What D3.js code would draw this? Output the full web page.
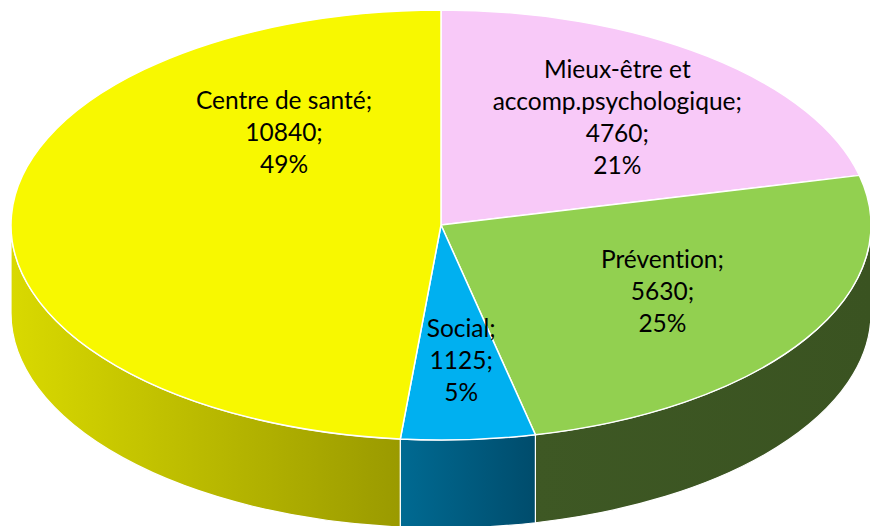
<!DOCTYPE html>
<html><head><meta charset="utf-8">
<script src="https://cdn.jsdelivr.net/npm/d3@7"></script>
<style>html,body{margin:0;padding:0;background:#fff;overflow:hidden} text{font-variant-ligatures:none;font-feature-settings:"liga" 0,"clig" 0}</style>
</head><body>
<svg id="chart" width="870" height="526"></svg>
<script>
// ---- data ----
const categories = ["Mieux-être et accomp.psychologique", "Prévention", "Social", "Centre de santé"];
const values = [4760, 5630, 1125, 10840];
const nameLines = [["Mieux-être et", "accomp.psychologique;"], ["Prévention;"], ["Social;"], ["Centre de santé;"]];
const percentLabels = ["21%", "25%", "5%", "49%"];
const topColors = ["#F8C9F8", "#92D050", "#00B0F0", "#F8F800"];
const sideColorsLeft = ["#B07AB0", "#3E5824", "#006A92", "#D9D900"];
const sideColorsRight = ["#905A90", "#3A5321", "#004C6C", "#9A9A00"];
// label placement as fractions of the ellipse radii (layout)
const labelU = [0.41, 0.515, 0.047, -0.365];
const labelV = [-0.5, 0.31, 0.63, -0.43];

// ---- geometry ----
const cx = 441, cy = 225, rx = 430, ry = 215, depth = 88;
const svg = d3.select("#chart");
const defs = svg.append("defs");

const data = categories.map((c, i) => ({name: c, value: values[i], i}));
const arcs = d3.pie().sort(null).value(d => d.value).startAngle(0).endAngle(2 * Math.PI)(data);

const px = a => cx + rx * Math.sin(a);
const py = (a, off = 0) => cy - ry * Math.cos(a) + off;

// side faces (front half only: angles between PI/2 and 3PI/2)
const sides = svg.append("g");
arcs.forEach(a => {
  const s0 = Math.max(a.startAngle, Math.PI / 2);
  const s1 = Math.min(a.endAngle, 3 * Math.PI / 2);
  if (s1 <= s0) return;
  const i = a.data.i;
  const xa = px(s0), xb = px(s1);
  const gid = "sg" + i;
  const g = defs.append("linearGradient").attr("id", gid)
    .attr("gradientUnits", "userSpaceOnUse")
    .attr("x1", Math.min(xa, xb)).attr("x2", Math.max(xa, xb)).attr("y1", 0).attr("y2", 0);
  g.append("stop").attr("offset", 0).attr("stop-color", sideColorsLeft[i]);
  g.append("stop").attr("offset", 1).attr("stop-color", sideColorsRight[i]);
  const d = `M${px(s0)},${py(s0)} A${rx},${ry} 0 0 1 ${px(s1)},${py(s1)} L${px(s1)},${py(s1, depth)} A${rx},${ry} 0 0 0 ${px(s0)},${py(s0, depth)} Z`;
  sides.append("path").attr("d", d).attr("fill", `url(#${gid})`)
    .attr("stroke", "#fff").attr("stroke-width", 1.2).attr("stroke-linejoin", "round");
});

// top faces
const tops = svg.append("g");
arcs.forEach(a => {
  const i = a.data.i;
  const large = (a.endAngle - a.startAngle) > Math.PI ? 1 : 0;
  const d = `M${cx},${cy} L${px(a.startAngle)},${py(a.startAngle)} A${rx},${ry} 0 ${large} 1 ${px(a.endAngle)},${py(a.endAngle)} Z`;
  tops.append("path").attr("d", d).attr("fill", topColors[i])
    .attr("stroke", "#fff").attr("stroke-width", 1.5).attr("stroke-linejoin", "round");
});

// labels
const fmt = d3.format("d");
const lineH = 32;
const labels = svg.append("g")
  .attr("font-family", "Lato, 'Open Sans', sans-serif")
  .attr("font-size", 24.5).attr("fill", "#000").attr("text-anchor", "middle");
arcs.forEach(a => {
  const i = a.data.i;
  const lines = nameLines[i].concat([fmt(values[i]) + ";", percentLabels[i]]);
  const x = cx + labelU[i] * rx;
  const yc = cy + labelV[i] * ry;
  const y0 = yc - (lines.length - 1) / 2 * lineH + 8.5;
  const t = labels.append("text").attr("x", x).attr("y", y0);
  lines.forEach((l, k) => t.append("tspan").attr("x", x).attr("y", y0 + k * lineH).text(l));
});
</script>
</body></html>
